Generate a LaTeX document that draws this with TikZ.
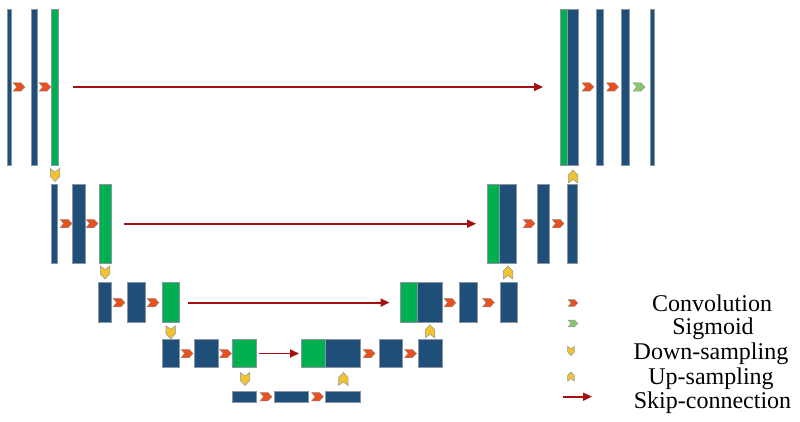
\documentclass[tikz,border=0pt]{standalone}
\usepackage{fontspec}
\setmainfont{Liberation Serif}
\usetikzlibrary{arrows.meta}
\definecolor{blu}{HTML}{1F4E79}
\definecolor{grn}{HTML}{00B050}
\definecolor{convc}{HTML}{E8501C}
\definecolor{sigc}{HTML}{8CC46C}
\definecolor{samp}{HTML}{F2C230}
\definecolor{skipc}{HTML}{A50F0F}
\definecolor{edge}{HTML}{8A96A3}
\tikzset{
  blk/.style={draw=edge, line width=0.6pt, inner sep=0pt, outer sep=0pt},
  hchev/.pic={\path[pic actions] (-6,-4.25)--(2,-4.25)--(6,0)--(2,4.25)--(-6,4.25)--(-2.5,0)--cycle;},
  vchev/.pic={\path[pic actions] (-6.5,-4.75)--(1.5,-4.75)--(6.5,0)--(1.5,4.75)--(-6.5,4.75)--(-3,0)--cycle;},
  convst/.style={fill=convc, draw=edge, line width=0.4pt},
  sigst/.style={fill=sigc, draw=edge, line width=0.4pt},
  sampst/.style={fill=samp, draw=edge, line width=0.5pt},
  skiparrow/.style={draw=skipc, line width=1.8pt, -{Triangle[length=9pt,width=8pt]}},
  legtext/.style={anchor=base, font=\fontsize{24}{25}\selectfont, inner sep=0pt}
}
\newcommand\blk[6]{\node[blk, fill=#6, minimum width={#4-#2}, minimum height={#5-#3}] (#1) at ({(#2+#4)/2},{(#3+#5)/2}) {};}
\begin{document}
\begin{tikzpicture}[x=1pt,y=-1pt]
\useasboundingbox (0,0) rectangle (800,422);
% Level 1
\blk{a1}{7.5}{9}{11.7}{165}{blu}
\blk{a2}{31.7}{9}{37.7}{165}{blu}
\blk{a3}{51.7}{9}{58.7}{165}{grn}
\blk{r1a}{560.7}{9}{567.5}{165}{grn}
\blk{r1b}{567.5}{9}{578.3}{165}{blu}
\blk{r1c}{596.7}{9}{603.7}{165}{blu}
\blk{r1d}{621.7}{9}{629}{165}{blu}
\blk{r1e}{650}{9}{654.3}{165}{blu}
\pic[convst] at (19,87) {hchev};
\pic[convst] at (45,87) {hchev};
\pic[convst] at (588,87) {hchev};
\pic[convst] at (612.5,87) {hchev};
\pic[sigst] at (639,87) {hchev};
\pic[sampst,rotate=-90] at (55,175) {vchev};
\pic[sampst,rotate=90] at (573,176.5) {vchev};
% Level 2
\blk{b1}{51.7}{184.5}{57.3}{263}{blu}
\blk{b2}{72.3}{184.5}{85}{263}{blu}
\blk{b3}{99}{184.5}{111}{263}{grn}
\blk{s2a}{487.3}{184.5}{499.3}{263}{grn}
\blk{s2b}{499.3}{184.5}{516}{263}{blu}
\blk{s2c}{537.7}{184.5}{549}{263}{blu}
\blk{s2d}{567.3}{184.5}{577.3}{263}{blu}
\pic[convst] at (66,223.5) {hchev};
\pic[convst] at (92,223.5) {hchev};
\pic[convst] at (529,223.5) {hchev};
\pic[convst] at (558,223.5) {hchev};
\pic[sampst,rotate=-90] at (105,272.5) {vchev};
\pic[sampst,rotate=90] at (508,272.5) {vchev};
% Level 3
\blk{c1}{98.3}{282.5}{111}{322.7}{blu}
\blk{c2}{127.3}{282.5}{145.7}{322.7}{blu}
\blk{c3}{162.3}{282.5}{179.3}{322.7}{grn}
\blk{s3a}{400.7}{282.5}{417.7}{322.7}{grn}
\blk{s3b}{417.7}{282.5}{442}{322.7}{blu}
\blk{s3c}{459}{282.5}{477.7}{322.7}{blu}
\blk{s3d}{500}{282.5}{517.3}{322.7}{blu}
\pic[convst] at (119,302.6) {hchev};
\pic[convst] at (153,302.6) {hchev};
\pic[convst] at (450,302.6) {hchev};
\pic[convst] at (488.5,302.6) {hchev};
\pic[sampst,rotate=-90] at (170.7,332.3) {vchev};
\pic[sampst,rotate=90] at (430,331.3) {vchev};
% Level 4
\blk{d1}{162.3}{339.3}{179.3}{367.7}{blu}
\blk{d2}{194.3}{339.3}{218.3}{367.7}{blu}
\blk{d3}{232.3}{339.3}{256}{367.7}{grn}
\blk{s4a}{301.7}{339.3}{325.7}{367.7}{grn}
\blk{s4b}{325.7}{339.3}{360}{367.7}{blu}
\blk{s4c}{379.3}{339.3}{402.7}{367.7}{blu}
\blk{s4d}{418.3}{339.3}{442.7}{367.7}{blu}
\pic[convst] at (187,353.5) {hchev};
\pic[convst] at (225.5,353.5) {hchev};
\pic[convst] at (369,353.5) {hchev};
\pic[convst] at (410.5,353.5) {hchev};
\pic[sampst,rotate=-90] at (245,379) {vchev};
\pic[sampst,rotate=90] at (343.3,379) {vchev};
% Level 5
\blk{e1}{232.3}{391}{256.7}{402.3}{blu}
\blk{e2}{274}{391}{308.3}{402.3}{blu}
\blk{e3}{325.7}{391}{360}{402.3}{blu}
\pic[convst] at (266,396.7) {hchev};
\pic[convst] at (317.5,396.7) {hchev};
% Skip connections
\draw[skiparrow, shorten <=14.3pt, shorten >=17.7pt] (a3.east) -- (r1a.west);
\draw[skiparrow, shorten <=13pt, shorten >=11.3pt] (b3.east) -- (s2a.west);
\draw[skiparrow, shorten <=9pt, shorten >=11.2pt] (c3.east) -- (s3a.west);
\draw[skiparrow, shorten <=3.3pt, shorten >=2.7pt] (d3.east) -- (s4a.west);
% Legend
\pic[convst, scale=0.8] at (573,303) {hchev};
\pic[sigst, scale=0.8] at (573,323.5) {hchev};
\pic[sampst, rotate=-90, scale=0.7] at (571,351) {vchev};
\pic[sampst, rotate=90, scale=0.7] at (571,376.5) {vchev};
\coordinate (lg1) at (563.3,396.7);
\coordinate (lg2) at (592,396.7);
\draw[skiparrow] (lg1) -- (lg2);
\node[legtext] (t1) at (712,311) {Convolution};
\node[legtext] (t2) at (713,334) {Sigmoid};
\node[legtext] (t3) at (711,359.8) {Down-sampling};
\node[legtext] (t4) at (711,384) {Up-sampling};
\node[legtext] (t5) at (712.5,408) {Skip-connection};
\end{tikzpicture}
\end{document}
